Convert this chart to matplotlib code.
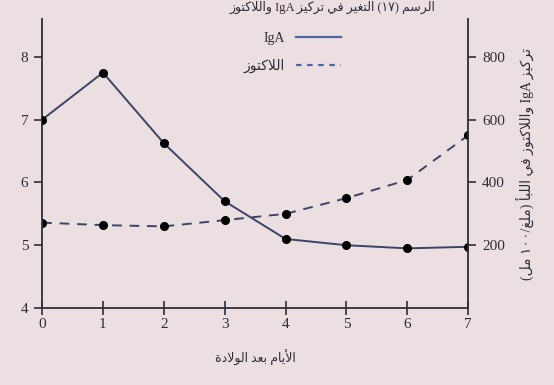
import re
import matplotlib
matplotlib.use("Agg")
import matplotlib.pyplot as plt
from matplotlib.lines import Line2D

# values
days = [0, 1, 2, 3, 4, 5, 6, 7]
lactose = [5.36, 5.32, 5.30, 5.40, 5.50, 5.75, 6.04, 6.75]   # left axis
iga = [600, 750, 525, 340, 220, 200, 190, 195]               # right axis
left_ticks = [4, 5, 6, 7, 8]
right_ticks = [200, 400, 600, 800]

title_txt = "الرسم (١٧) التغير في تركيز IgA واللاكتوز"
xlabel_txt = "الأيام بعد الولادة"
ylabel_r_txt = "تركيز IgA واللاكتوز في اللبأ (ملغ/١٠٠ مل)"
leg_iga = "IgA"
leg_lac = "اللاكتوز"

# --- tiny arabic shaper (matplotlib does no joining / bidi) ---
FORMS = {  # isolated, final, initial, medial
    "ا": (0xFE8D, 0xFE8E, None, None), "أ": (0xFE83, 0xFE84, None, None),
    "ب": (0xFE8F, 0xFE90, 0xFE91, 0xFE92), "ة": (0xFE93, 0xFE94, None, None),
    "ت": (0xFE95, 0xFE96, 0xFE97, 0xFE98), "ح": (0xFEA1, 0xFEA2, 0xFEA3, 0xFEA4),
    "د": (0xFEA9, 0xFEAA, None, None), "ر": (0xFEAD, 0xFEAE, None, None),
    "ز": (0xFEAF, 0xFEB0, None, None), "س": (0xFEB1, 0xFEB2, 0xFEB3, 0xFEB4),
    "ع": (0xFEC9, 0xFECA, 0xFECB, 0xFECC), "غ": (0xFECD, 0xFECE, 0xFECF, 0xFED0),
    "ف": (0xFED1, 0xFED2, 0xFED3, 0xFED4), "ك": (0xFED9, 0xFEDA, 0xFEDB, 0xFEDC),
    "ل": (0xFEDD, 0xFEDE, 0xFEDF, 0xFEE0), "م": (0xFEE1, 0xFEE2, 0xFEE3, 0xFEE4),
    "ن": (0xFEE5, 0xFEE6, 0xFEE7, 0xFEE8), "ه": (0xFEE9, 0xFEEA, 0xFEEB, 0xFEEC),
    "و": (0xFEED, 0xFEEE, None, None), "ي": (0xFEF1, 0xFEF2, 0xFEF3, 0xFEF4),
    "لا": (0xFEFB, 0xFEFC, None, None), "لأ": (0xFEF7, 0xFEF8, None, None),
}


def shape(word):
    units = []
    i = 0
    while i < len(word):
        if word[i] == "ل" and i + 1 < len(word) and word[i + 1] in "اأ":
            units.append(word[i:i + 2])
            i += 2
        else:
            units.append(word[i])
            i += 1
    out = []
    for k, u in enumerate(units):
        f = FORMS[u]
        prev_joins = k > 0 and FORMS[units[k - 1]][2] is not None
        next_ok = k + 1 < len(units) and f[2] is not None
        if prev_joins and next_ok:
            out.append(f[3])
        elif prev_joins:
            out.append(f[1])
        elif next_ok:
            out.append(f[2])
        else:
            out.append(f[0])
    return "".join(chr(c) for c in out)


def rtl(text):
    tokens = re.findall(r"[\u0621-\u064A]+|[A-Za-z0-9\u0660-\u0669]+|.", text)
    vis = []
    for t in reversed(tokens):
        if re.match(r"[\u0621-\u064A]", t):
            vis.append(shape(t)[::-1])
        else:
            vis.append({"(": ")", ")": "("}.get(t, t))
    return "".join(vis)


bg = "#ecdfe2"
ink = "#2e2e38"
line_c = "#3a4466"
fams = ["Liberation Serif", "DejaVu Sans"]
plt.rcParams["font.family"] = fams

fig = plt.figure(figsize=(5.54, 3.85), dpi=100, facecolor=bg)
ax = fig.add_axes([0.076, 0.2, 0.769, 0.75])
ax.set_facecolor(bg)
ax2 = ax.twinx()

ax.plot(days, lactose, color=line_c, lw=1.4, dashes=(5, 4),
        marker="o", ms=5.5, mfc="black", mec="black")
ax2.plot(days, iga, color=line_c, lw=1.4,
         marker="o", ms=5.5, mfc="black", mec="black")

ax.set_xlim(0, 7)
ax.set_ylim(4, 8.6)
ax2.set_ylim(0, 920)
ax.set_xticks(days)
ax.set_yticks(left_ticks)
ax2.set_yticks(right_ticks)

for a in (ax, ax2):
    a.spines["top"].set_visible(False)
    for s in a.spines.values():
        s.set_color(ink)
        s.set_linewidth(1.3)
ax.spines["right"].set_visible(False)
ax2.spines["left"].set_visible(False)
ax2.spines["bottom"].set_visible(False)

ax.tick_params(axis="x", direction="inout", length=10, width=1.2,
               colors=ink, labelsize=11, pad=2)
ax.tick_params(axis="y", direction="out", length=6, width=1.2,
               colors=ink, labelsize=11, pad=4)
ax2.tick_params(axis="y", direction="out", length=6, width=1.2,
                colors=ink, labelsize=11, pad=4)

ax.set_xlabel(rtl(xlabel_txt), fontsize=9, color=ink, labelpad=14)
ax2.set_ylabel(rtl(ylabel_r_txt), fontsize=10, color=ink, labelpad=8)

fig.text(0.6, 0.998, rtl(title_txt), fontsize=9, color=ink,
         ha="center", va="top")

handles = [Line2D([], [], color="#4b66a8", lw=1.6),
           Line2D([], [], color="#4b66a8", lw=1.6, dashes=(2.5, 2.5))]
ax.legend(handles, [leg_iga, rtl(leg_lac)], loc="upper right",
          bbox_to_anchor=(0.73, 1.0), frameon=False, markerfirst=False,
          handlelength=3.2, fontsize=10, labelspacing=1.0,
          labelcolor=ink)

fig.savefig("out.png", dpi=100, facecolor=bg)
